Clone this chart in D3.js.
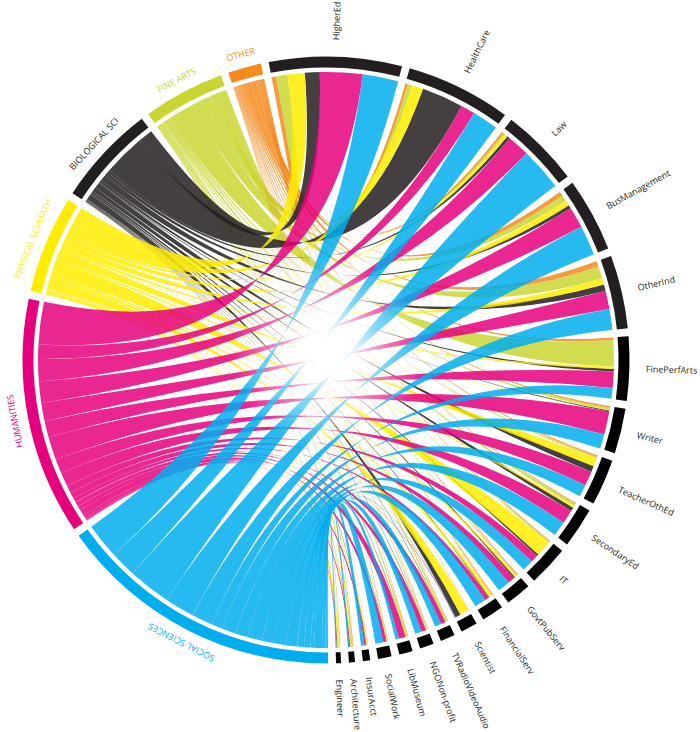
<!DOCTYPE html>
<html>
<head>
<meta charset="utf-8">
<script src="https://cdn.jsdelivr.net/npm/d3@7"></script>
<style>
  html, body { margin: 0; padding: 0; background: #fff; }
  svg { display: block; }
</style>
</head>
<body>
<svg id="chart" width="700" height="732"></svg>
<script>
// ---- DATA ----
const careers = ["HigherEd", "HealthCare", "Law", "BusManagement", "OtherInd", "FinePerfArts",
  "Writer", "TeacherOthEd", "SecondaryEd", "IT", "GovtPubServ", "FinancialServ", "Scientist",
  "TVRadioVideoAudio", "NGONon-profit", "LibMuseum", "SocialWork", "InsurAcct", "Architecture", "Engineer"];

const majors = ["SOCIAL SCIENCES", "HUMANITIES", "PHYSICAL SCI/MATH", "BIOLOGICAL SCI", "FINE ARTS", "OTHER"];

// flows from each major to each career (career order as above)
const socialSciences = [7.2, 5.2, 8.7, 6.0, 4.2, 2.2, 2.9, 2.5, 3.0, 2.3, 2.5, 2.3, 0.1, 1.3, 1.3, 0.7, 1.6, 0.7, 0.3, 0.2];
const humanities     = [8.6, 2.9, 4.5, 4.3, 3.7, 3.3, 4.7, 2.9, 2.8, 1.5, 1.3, 0.8, 0.1, 0.9, 0.9, 1.3, 0.6, 0.3, 0.2, 0.1];
const physicalSci    = [3.5, 2.3, 0.6, 1.1, 1.3, 0.5, 0.15, 1.7, 0.4, 3.2, 0.4, 0.6, 1.8, 0.1, 0.1, 0.1, 0.1, 0.2, 0.2, 0.4];
const biologicalSci  = [3.0, 8.4, 0.6, 0.7, 1.3, 0.5, 0.2, 1.2, 0.8, 0.4, 0.3, 0.2, 1.1, 0.1, 0.1, 0.1, 0.1, 0.1, 0.05, 0.1];
const fineArts       = [2.3, 0.9, 0.4, 1.2, 2.5, 5.3, 0.4, 0.3, 0.5, 0.2, 0.2, 0.1, 0.05, 0.3, 0.2, 0.3, 0.1, 0.05, 0.3, 0.05];
const otherMajor     = [0.9, 0.5, 0.4, 0.9, 1.1, 0.5, 0.3, 0.3, 0.2, 0.2, 0.2, 0.2, 0.05, 0.1, 0.1, 0.1, 0.1, 0.05, 0.1, 0.1];

const majorColors = ["#00aeef", "#e6007e", "#ffed00", "#231f20", "#c9d631", "#f58a1f"];

// ---- LAYOUT ----
const flows = [socialSciences, humanities, physicalSci, biologicalSci, fineArts, otherMajor];
const deg = Math.PI / 180;
const padAngle = 1.5 * deg;
const startAngle = -10.9 * deg;
const total = d3.sum(flows, row => d3.sum(row));
const angle = d3.scaleLinear().domain([0, total]).range([0, (2 * Math.PI - 26 * padAngle) / 2]);

const cx = 326, cy = 360;
const ribbonR = 288, arcInner = 292.5, arcOuter = 303.5;

const groups = [];
let pos = startAngle;
careers.forEach((name, ci) => {
  const v = d3.sum(flows, row => row[ci]);
  groups.push({ type: "career", index: ci, name, startAngle: pos, endAngle: pos + angle(v) });
  pos += angle(v) + padAngle;
});
majors.forEach((name, mi) => {
  const v = d3.sum(flows[mi]);
  groups.push({ type: "major", index: mi, name, startAngle: pos, endAngle: pos + angle(v) });
  pos += angle(v) + padAngle;
});

const careerSub = {};
const careerOrder = [5, 4, 2, 3, 1, 0]; // OTHER, FINE ARTS, PHYS, BIO, HUM, SOC clockwise
groups.filter(g => g.type === "career").forEach(g => {
  let a = g.startAngle;
  careerOrder.forEach(mi => {
    const v = flows[mi][g.index];
    careerSub[mi + "-" + g.index] = { startAngle: a, endAngle: a + angle(v) };
    a += angle(v);
  });
});
const majorSub = {};
groups.filter(g => g.type === "major").forEach(g => {
  let a = g.startAngle;
  for (let ci = careers.length - 1; ci >= 0; ci--) {
    const v = flows[g.index][ci];
    majorSub[g.index + "-" + ci] = { startAngle: a, endAngle: a + angle(v) };
    a += angle(v);
  }
});

const chords = [];
const drawOrder = [4, 5, 3, 2, 1, 0];
drawOrder.forEach(mi => {
  careers.forEach((c, ci) => {
    if (flows[mi][ci] > 0) {
      chords.push({ major: mi, source: majorSub[mi + "-" + ci], target: careerSub[mi + "-" + ci] });
    }
  });
});

// twisted ribbon: start of source joins start of target, end joins end
function ribbonPath(d) {
  const r = ribbonR, h = Math.PI / 2;
  const s0 = d.source.startAngle - h, s1 = d.source.endAngle - h;
  const t0 = d.target.startAngle - h, t1 = d.target.endAngle - h;
  const p = d3.path();
  p.moveTo(r * Math.cos(s0), r * Math.sin(s0));
  p.arc(0, 0, r, s0, s1);
  p.quadraticCurveTo(0, 0, r * Math.cos(t1), r * Math.sin(t1));
  p.arc(0, 0, r, t1, t0, true);
  p.quadraticCurveTo(0, 0, r * Math.cos(s0), r * Math.sin(s0));
  p.closePath();
  return p.toString();
}

// ---- DRAW ----
const svg = d3.select("#chart");
const defs = svg.append("defs");
const grad = defs.append("radialGradient").attr("id", "glow");
[[0, 1], [0.25, 0.9], [0.55, 0.45], [1, 0]].forEach(([o, a]) => {
  grad.append("stop").attr("offset", o).attr("stop-color", "#fff").attr("stop-opacity", a);
});

const g = svg.append("g").attr("transform", `translate(${cx},${cy})`);

g.append("g").selectAll("path")
  .data(chords)
  .join("path")
  .attr("d", ribbonPath)
  .attr("fill", d => majorColors[d.major])
  .attr("fill-opacity", 0.85);

g.append("circle")
  .attr("cx", 2).attr("cy", -8).attr("r", 95)
  .attr("fill", "url(#glow)");

const arc = d3.arc().innerRadius(arcInner).outerRadius(arcOuter);
g.append("g").selectAll("path")
  .data(groups)
  .join("path")
  .attr("d", arc)
  .attr("fill", d => d.type === "major" ? majorColors[d.index] : (d.index < 5 ? "#231f20" : "#000000"));

g.append("g").selectAll("text")
  .data(groups.filter(d => d.type === "career"))
  .join("text")
  .attr("transform", d => {
    const a = (d.startAngle + d.endAngle) / 2 / deg;
    return `rotate(${a - 90}) translate(320,0)`;
  })
  .attr("dy", "0.35em")
  .attr("text-anchor", "start")
  .attr("font-family", "'Open Sans', sans-serif")
  .attr("font-size", 9)
  .attr("fill", "#231f20")
  .text(d => d.name);

g.append("g").selectAll("text")
  .data(groups.filter(d => d.type === "major"))
  .join("text")
  .attr("transform", d => {
    const a = (d.startAngle + d.endAngle) / 2 / deg;
    return `rotate(${a}) translate(0,-314)`;
  })
  .attr("text-anchor", "middle")
  .attr("font-family", "'Open Sans', sans-serif")
  .attr("font-size", 9)
  .attr("fill", d => majorColors[d.index])
  .text(d => d.name);
</script>
</body>
</html>
